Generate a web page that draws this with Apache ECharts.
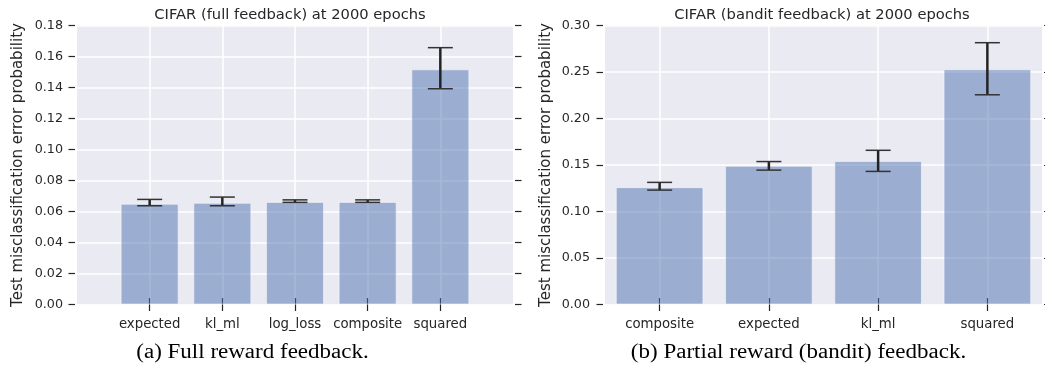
<!DOCTYPE html>
<html>
<head>
<meta charset="utf-8">
<script src="https://cdn.jsdelivr.net/npm/echarts@6/dist/echarts.min.js"></script>
<style>
html,body{margin:0;padding:0;background:#fff;}
#c{width:1045px;height:380px;}
</style>
</head>
<body>
<div id="c"></div>
<script>
// ---- Data ----
const catsA = ['expected', 'kl_ml', 'log_loss', 'composite', 'squared'];
const meanA = [0.0650, 0.0656, 0.0662, 0.0662, 0.1517];
const lowA  = [0.0637, 0.0637, 0.0659, 0.0659, 0.1392];
const highA = [0.0678, 0.0693, 0.0675, 0.0675, 0.1657];
const yTicksA = { min: 0, max: 0.18, step: 0.02 };

const catsB = ['composite', 'expected', 'kl_ml', 'squared'];
const meanB = [0.1262, 0.1491, 0.1542, 0.2529];
const lowB  = [0.1230, 0.1445, 0.1431, 0.2255];
const highB = [0.1313, 0.1537, 0.1658, 0.2815];
const yTicksB = { min: 0, max: 0.30, step: 0.05 };

const titleA = 'CIFAR (full feedback) at 2000 epochs';
const titleB = 'CIFAR (bandit feedback) at 2000 epochs';
const captionA = '(a) Full reward feedback.';
const captionB = '(b) Partial reward (bandit) feedback.';
const yName = 'Test misclassification error probability';

// ---- Build padded category axes ----
function padCats(cats, slots) {
  const out = [''];
  cats.forEach((c, i) => {
    out.push(c);
    for (let k = 1; k < slots; k++) out.push('');
  });
  if (slots === 1) out.push('');
  return out;
}
function catIndex(i, slots) { return 1 + i * slots; }
function padVals(vals, padded, slots) {
  const arr = padded.map(() => '-');
  vals.forEach((v, i) => { arr[catIndex(i, slots)] = v; });
  return arr;
}
const padA = padCats(catsA, 1);
const padB = padCats(catsB, 2);

const TXT = '#262626';
const FONT = 'DejaVu Sans';

function errRender(params, api) {
  const x = api.value(0), lo = api.value(1), hi = api.value(2);
  const pLo = api.coord([x, lo]);
  const pHi = api.coord([x, hi]);
  const cap = 12.5;
  return {
    type: 'group',
    children: [
      { type: 'line', shape: { x1: pLo[0], y1: pLo[1], x2: pHi[0], y2: pHi[1] },
        style: { stroke: '#222', lineWidth: 2.5 } },
      { type: 'line', shape: { x1: pLo[0] - cap, y1: pLo[1], x2: pLo[0] + cap, y2: pLo[1] },
        style: { stroke: '#333', lineWidth: 1.5 } },
      { type: 'line', shape: { x1: pHi[0] - cap, y1: pHi[1], x2: pHi[0] + cap, y2: pHi[1] },
        style: { stroke: '#333', lineWidth: 1.5 } }
    ]
  };
}

const notEmpty = (idx, val) => val !== '';

function xAxes(gridIndex, padded) {
  const tick = { show: true, length: 6.5, interval: notEmpty, lineStyle: { color: TXT, width: 1.2 } };
  return [
    { type: 'category', gridIndex, data: padded, boundaryGap: false, position: 'bottom', offset: 2,
      axisLine: { show: false }, axisTick: tick,
      axisLabel: { interval: 0, margin: 12, color: TXT, fontFamily: FONT, fontSize: 13.3 },
      splitLine: { show: true, interval: notEmpty, lineStyle: { color: '#fff', width: 1.5 } } },
    { type: 'category', gridIndex, data: padded, boundaryGap: false, position: 'top', offset: 2,
      axisLine: { show: false }, axisTick: tick, axisLabel: { show: false }, splitLine: { show: false } }
  ];
}
function yAxes(gridIndex, t, margin, nameGap) {
  const tick = { show: true, length: 6.5, lineStyle: { color: TXT, width: 1.2 } };
  return [
    { type: 'value', gridIndex, min: t.min, max: t.max, interval: t.step, position: 'left', offset: 2,
      name: yName, nameLocation: 'middle', nameGap, nameRotate: 90,
      nameTextStyle: { color: TXT, fontFamily: FONT, fontSize: 15 },
      axisLine: { show: false }, axisTick: tick,
      axisLabel: { margin, color: TXT, fontFamily: FONT, fontSize: 12.7, formatter: v => v.toFixed(2) },
      splitLine: { show: true, lineStyle: { color: '#fff', width: 1.5 } } },
    { type: 'value', gridIndex, min: t.min, max: t.max, interval: t.step, position: 'right', offset: 2,
      axisLine: { show: false }, axisTick: tick, axisLabel: { show: false }, splitLine: { show: false } }
  ];
}

const chart = echarts.init(document.getElementById('c'), null, { renderer: 'canvas' });
const option = {
  animation: false,
  grid: [
    { left: 77, top: 25.5, width: 436, height: 279, show: true, backgroundColor: '#EAEAF2', borderWidth: 0 },
    { left: 605, top: 25.5, width: 438, height: 279, show: true, backgroundColor: '#EAEAF2', borderWidth: 0 }
  ],
  xAxis: [...xAxes(0, padA), ...xAxes(1, padB)],
  yAxis: [...yAxes(0, yTicksA, 12, 49), ...yAxes(1, yTicksB, 13, 49)],
  series: [
    { type: 'bar', xAxisIndex: 0, yAxisIndex: 0, data: padVals(meanA, padA, 1), barWidth: 58,
      itemStyle: { color: '#4C72B0', opacity: 0.5, borderColor: '#fff', borderWidth: 1 } },
    { type: 'custom', xAxisIndex: 0, yAxisIndex: 0, renderItem: errRender, encode: { x: 0, y: [1, 2] },
      data: catsA.map((c, i) => [catIndex(i, 1), lowA[i], highA[i]]), z: 5 },
    { type: 'bar', xAxisIndex: 2, yAxisIndex: 2, data: padVals(meanB, padB, 2), barWidth: 87.6,
      itemStyle: { color: '#4C72B0', opacity: 0.5, borderColor: '#fff', borderWidth: 1 } },
    { type: 'custom', xAxisIndex: 2, yAxisIndex: 2, renderItem: errRender, encode: { x: 0, y: [1, 2] },
      data: catsB.map((c, i) => [catIndex(i, 2), lowB[i], highB[i]]), z: 5 }
  ],
  graphic: [
    { type: 'text', x: 290, y: 15, z: 10,
      style: { text: titleA, textAlign: 'center', textVerticalAlign: 'middle', fill: TXT,
               font: '14.7px "DejaVu Sans"' } },
    { type: 'text', x: 822, y: 15, z: 10,
      style: { text: titleB, textAlign: 'center', textVerticalAlign: 'middle', fill: TXT,
               font: '14.7px "DejaVu Sans"' } },
    { type: 'text', x: 252.5, y: 352.5, z: 10, scaleX: 1.15,
      style: { text: captionA, textAlign: 'center', textVerticalAlign: 'middle', fill: '#000',
               font: '20px "Liberation Serif"' } },
    { type: 'text', x: 798.5, y: 352.5, z: 10, scaleX: 1.15,
      style: { text: captionB, textAlign: 'center', textVerticalAlign: 'middle', fill: '#000',
               font: '20px "Liberation Serif"' } }
  ]
};
chart.setOption(option);
</script>
</body>
</html>
